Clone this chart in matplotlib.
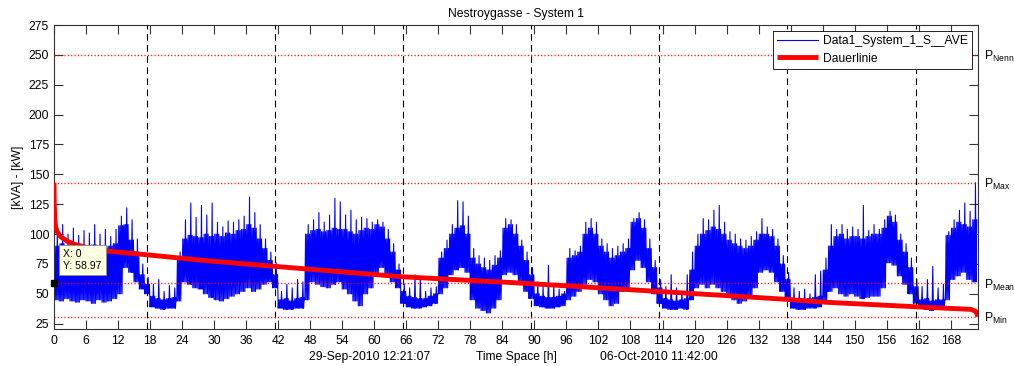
import numpy as np
import matplotlib
matplotlib.use("Agg")
import matplotlib.pyplot as plt

plt.rcParams['font.family'] = ['Liberation Sans', 'DejaVu Sans']
plt.rcParams['font.size'] = 8.7

# ---- measured apparent power, one entry per hour (0 .. 172 h) ----
# lower edge of the band, upper edge of the dense band, highest spike
low_h = [45, 44, 46, 44, 43, 45,   44, 42, 45, 43, 44, 46,
         50, 72, 68, 60, 54, 50,   39, 38, 37, 38, 38, 44,
         60, 58, 55, 54, 50, 47,   45, 44, 46, 48, 50, 52,
         55, 52, 54, 58, 60, 55,   38, 37, 37, 38, 38, 45,
         60, 58, 56, 55, 58, 60,   54, 50, 44, 40, 50, 55,
         66, 72, 66, 60, 55, 42,   39, 38, 38, 39, 40, 42,
         50, 55, 66, 70, 72, 68,   45, 38, 36, 34, 38, 45,
         66, 68, 66, 60, 52, 46,   40, 39, 38, 38, 39, 40,
         45, 48, 52, 58, 62, 60,   50, 45, 40, 42, 52, 55,
         70, 78, 72, 60, 50, 42,   38, 37, 37, 38, 37, 45,
         55, 58, 55, 58, 55, 52,   50, 45, 42, 44, 48, 55,
         68, 70, 68, 60, 52, 46,   38, 37, 37, 38, 38, 39,
         45, 52, 55, 50, 48, 50,   48, 46, 47, 48, 48, 55,
         76, 74, 65, 58, 50, 42,   38, 37, 36, 37, 37, 45,
         62, 65, 68, 62, 60]
top_h = [90, 92, 89, 91, 88, 90,   89, 91, 90, 88, 90, 92,
         107, 108, 95, 85, 66, 58,  48, 46, 45, 46, 47, 80,
         96, 99, 98, 97, 100, 98,   100, 98, 101, 100, 103, 104,
         108, 105, 96, 88, 78, 66,  45, 46, 44, 46, 47, 100,
         103, 104, 102, 103, 105, 104,  104, 102, 100, 103, 105, 104,
         108, 106, 96, 85, 70, 52,  48, 47, 46, 46, 48, 50,
         80, 88, 100, 105, 107, 100,  80, 75, 72, 70, 74, 80,
         105, 108, 100, 90, 78, 66,  50, 48, 47, 47, 48, 50,
         80, 82, 85, 100, 105, 100,  90, 85, 80, 82, 85, 88,
         110, 113, 105, 88, 72, 55,  46, 45, 44, 45, 46, 70,
         90, 100, 103, 106, 104, 100,  95, 92, 90, 88, 90, 95,
         100, 100, 98, 90, 75, 62,  46, 45, 45, 46, 47, 48,
         70, 90, 98, 100, 96, 98,   98, 96, 98, 100, 100, 105,
         115, 110, 95, 85, 72, 56,  45, 46, 44, 45, 45, 99,
         105, 110, 108, 106, 112]
peak_h = [104, 108, 100, 105, 99, 103,   101, 108, 100, 104, 98, 104,
          115, 122, 112, 96, 75, 64,   58, 62, 52, 57, 55, 85,
          112, 126, 114, 124, 116, 126,   110, 106, 111, 110, 112, 115,
          131, 118, 108, 96, 85, 76,   52, 58, 55, 62, 60, 108,
          112, 118, 110, 116, 130, 127,   116, 120, 112, 114, 113, 110,
          112, 110, 104, 92, 75, 58,   55, 66, 63, 52, 55, 56,
          85, 95, 108, 128, 127, 115,   88, 82, 80, 78, 82, 86,
          113, 112, 108, 95, 85, 72,   60, 56, 74, 58, 54, 52,
          88, 86, 90, 110, 113, 110,   96, 92, 88, 90, 92, 96,
          113, 118, 112, 96, 78, 62,   56, 66, 55, 52, 66, 85,
          100, 113, 112, 120, 124, 110,   102, 100, 96, 95, 98, 102,
          113, 106, 104, 96, 82, 68,   55, 52, 54, 50, 66, 69,
          80, 108, 104, 108, 104, 106,   104, 124, 103, 108, 104, 112,
          119, 116, 100, 92, 80, 62,   56, 62, 73, 55, 58, 102,
          112, 120, 126, 119, 143]

# ---- load duration curve (Dauerlinie) ----
dur_h = [0, 0.05, 0.15, 0.3, 0.6, 1.2, 2.5, 3.8, 6, 9.5, 17.4, 28.7, 41.4,
         57.6, 65.2, 86.4, 115.3, 137.3, 144.1, 161.5, 171.8, 172.7, 173.1]
dur_v = [143, 125, 113, 106, 102, 98, 94, 91.5, 89, 86, 82.7, 77.7, 73,
         67.1, 64.3, 59.3, 51.5, 45.4, 43.1, 39.2, 37, 35.3, 31.1]

# ---- reference power levels ----
p_names = ['Min', 'Mean', 'Max', 'Nenn']
p_vals = [31, 58.97, 143, 250]

# day boundaries (h)
midnights = [17.4, 41.4, 65.4, 89.4, 113.4, 137.4, 161.4]

x_ticks = list(range(0, 169, 6))
y_ticks = list(range(25, 276, 25))
t_end = 173.1

# expand each hourly reading into a jagged trace that alternates between
# the band edges and ends each hour with its spike
hours = np.arange(len(low_h))
low_a, top_a, peak_a = map(np.asarray, (low_h, top_h, peak_h))
cols = [low_a, top_a, low_a, top_a, low_a, peak_a, low_a, top_a]
sub = np.arange(len(cols)) / len(cols)
tx = (hours[:, None] + sub[None, :]).ravel()
ty = np.column_stack(cols).ravel()

fig = plt.figure(figsize=(10.14, 3.66), dpi=100)
ax = fig.add_axes([54 / 1014, 1 - 329 / 366, 924 / 1014, 304 / 366])

ax.plot(tx, ty, color=(0, 0, 1), lw=0.8, zorder=2, label='Data1_System_1_S__AVE')
for m in midnights:
    ax.axvline(m, color='k', lw=0.8, ls=(0, (6, 4)), zorder=3)
for v in p_vals:
    ax.axhline(v, color='#ff0000', lw=1.0, ls=(0, (0.8, 1.6)), zorder=3)
ax.plot(dur_h, dur_v, color='r', lw=3.5, zorder=4, solid_capstyle='butt',
        label='Dauerlinie')

ax.set_xlim(0, t_end)
ax.set_ylim(20.6, 275)
ax.set_xticks(x_ticks)
ax.set_yticks(y_ticks)
ax.set_axisbelow(True)

for s in ax.spines.values():
    s.set_color('#333333')
    s.set_linewidth(0.8)

ax.set_title('Nestroygasse - System 1', fontsize=8.7, pad=6)
ax.set_ylabel('[kVA] - [kW]', labelpad=3)
ax.set_xlabel('Time Space [h]', labelpad=3)
ax.annotate('29-Sep-2010 12:21:07', xy=(0.5, 0.5), xycoords=ax.xaxis.label,
            xytext=(-146, 0), textcoords='offset pixels', ha='center', va='center')
ax.annotate('06-Oct-2010 11:42:00', xy=(0.5, 0.5), xycoords=ax.xaxis.label,
            xytext=(143, 0), textcoords='offset pixels', ha='center', va='center')

# data tip at the first sample
ax.plot([0], [p_vals[1]], 's', color='k', ms=5, clip_on=False, zorder=6)
ax.annotate(f'X: 0\nY: {p_vals[1]:.2f}', xy=(0, p_vals[1]),
            xytext=(9, 12), textcoords='offset pixels', ha='left', va='bottom',
            fontsize=7.6, linespacing=1.25, zorder=7,
            bbox=dict(boxstyle='square,pad=0.4', fc='#FFFFE1', ec='#8a8a8a', lw=0.6))

leg = ax.legend(loc='upper right', frameon=True, fancybox=False, edgecolor='k',
                framealpha=1, borderaxespad=0.5, handlelength=3.4,
                handletextpad=0.4, labelspacing=0.45, borderpad=0.35)
leg.get_frame().set_linewidth(0.6)
leg.set_zorder(8)

# right-hand labels for the reference levels
ax2 = ax.twinx()
ax2.set_ylim(ax.get_ylim())
ax2.set_yticks(p_vals)
ax2.set_yticklabels([r'$\mathregular{P_{%s}}$' % n for n in p_names])
ax2.tick_params(axis='y', length=0, pad=4, labelsize=8.8)
for s in ax2.spines.values():
    s.set_visible(False)

ax.tick_params(which='both', direction='in', top=True, right=True,
               length=6.6, width=0.8, color='#333333')
ax.tick_params(axis='x', pad=4)
ax.tick_params(axis='y', pad=3.5)

fig.savefig('out.png', dpi=100)
